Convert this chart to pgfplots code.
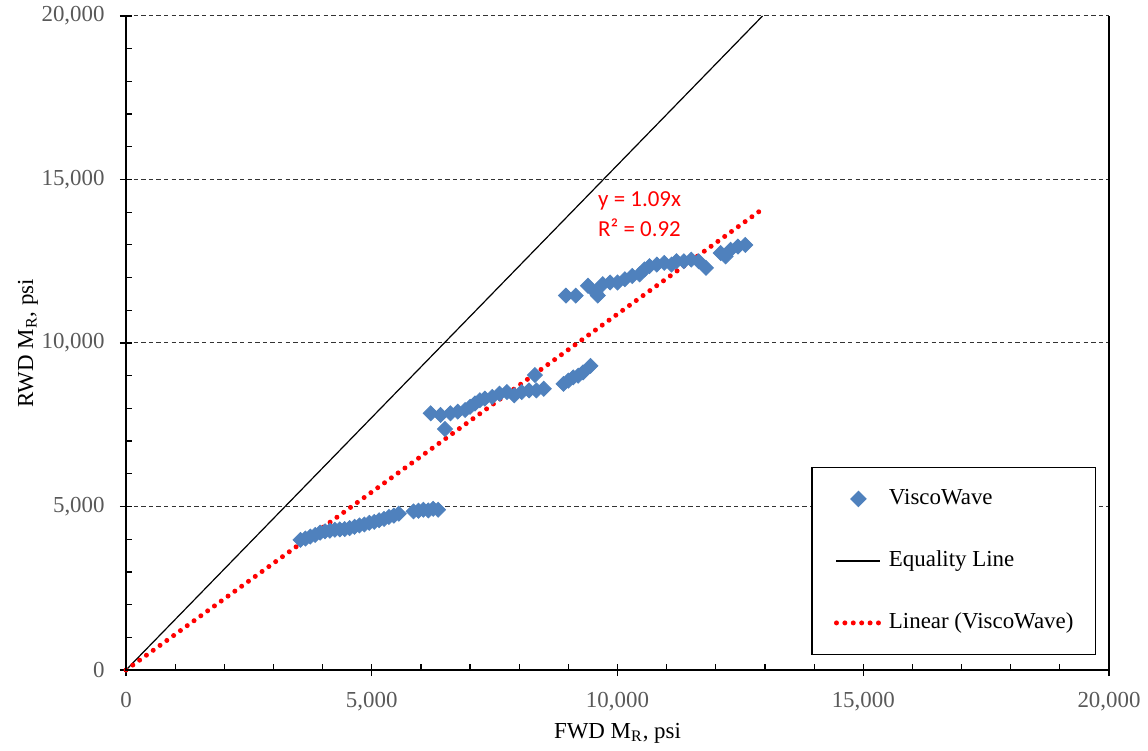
\documentclass[border=0pt]{standalone}
\usepackage{fontspec}
\setmainfont{Liberation Serif}
\newfontfamily\calibri{Carlito}
\usepackage{pgfplots}
\usepackage{pgfplotstable}
\pgfplotsset{compat=1.18}
\definecolor{vwblue}{RGB}{79,129,189}
\definecolor{ticklab}{RGB}{89,89,89}

\pgfplotstableread{
x y
3550 3980
3650 4020
3750 4080
3850 4130
3950 4200
4050 4240
4150 4260
4250 4290
4350 4300
4450 4310
4550 4340
4650 4380
4750 4420
4850 4450
4950 4500
5050 4530
5150 4580
5250 4620
5350 4680
5450 4720
5550 4780
5850 4850
5950 4870
6050 4900
6150 4880
6250 4930
6350 4900
6200 7850
6400 7800
6490 7370
6600 7850
6750 7900
6900 7950
7000 8050
7100 8150
7200 8250
7300 8300
7450 8350
7600 8450
7750 8500
7900 8400
8050 8500
8200 8550
8320 9020
8350 8550
8500 8600
8900 8750
9000 8850
9100 8950
9200 9000
9300 9100
9450 9300
8950 11450
9150 11450
9400 11750
9550 11550
9600 11450
9700 11800
9850 11850
10000 11850
10150 11950
10300 12050
10450 12100
10550 12250
10650 12350
10800 12400
10950 12450
11100 12400
11200 12500
11350 12500
11500 12550
11650 12500
11800 12300
12100 12750
12200 12650
12300 12850
12450 12950
12600 13000
}\viscodata

\begin{document}
\begin{tikzpicture}
\begin{axis}[
  scale only axis, width=491.5bp, height=327bp,
  xmin=0, xmax=20000, ymin=0, ymax=20000,
  xtick={0,5000,...,20000}, ytick={0,5000,...,20000},
  minor tick num=4,
  xtick pos=left, ytick pos=left,
  tick align=inside,
  major tick length=6bp, minor tick length=3bp,
  major x tick style={yshift=-3bp},
  major y tick style={xshift=-3bp},
  tick style={black, line width=0.6bp},
  axis line style={draw=none},
  ymajorgrids,
  major grid style={black!80, line width=0.5bp, dash pattern=on 2.2bp off 1.6bp},
  /pgf/number format/.cd, 1000 sep={,}, assume math mode=true,
  /pgfplots/.cd,
  xticklabel style={font=\fontsize{11.5}{13}\selectfont, text=ticklab, anchor=north, inner sep=0pt, yshift=-11bp},
  yticklabel style={font=\fontsize{11.5}{13}\selectfont, text=ticklab, anchor=east, inner sep=0pt, xshift=-10.5bp},
  scaled ticks=false,
  xlabel={FWD M\textsubscript{R}, psi},
  ylabel={RWD M\textsubscript{R}, psi},
  label style={font=\fontsize{11.5}{13}\selectfont},
  xlabel style={at={(axis description cs:0.5,-0.0963)}, anchor=center},
  ylabel style={at={(axis description cs:-0.0997,0.5)}, anchor=center},
  legend cell align=left,
  legend image code/.code={\draw[mark repeat=2,mark phase=2,#1] plot coordinates {(0bp,0bp) (11bp,0bp) (22bp,0bp)};},
  legend style={at={(0.9868,0.0229)}, anchor=south east, draw=black, line width=0.6bp,
    font=\fontsize{11.5}{13}\selectfont, row sep=20.5bp, column sep=3bp,
    inner xsep=11bp, inner ysep=10.5bp,
    nodes={inner sep=0pt, text height=8bp, text depth=2.5bp}},
  clip=false,
]
\addplot[only marks, mark=square*, mark size=2.65bp, mark options={rotate=45, fill=vwblue, draw=vwblue}] table[x=x,y=y] {\viscodata};
\addlegendentry{ViscoWave}
\addplot[black, line width=0.6bp] coordinates {(0,0) (12950,20000)};
\addlegendentry{Equality Line}
\addplot[red, line width=2.5bp, line cap=round, dash pattern=on 0pt off 4.2bp] coordinates {(0,0) (13000,14150)};
\addlegendentry{Linear (ViscoWave)}
\draw[black, line width=1bp] (rel axis cs:0,1) -- (rel axis cs:0,0) -- (rel axis cs:1,0) -- (rel axis cs:1,1);
\node[anchor=west, align=left, text=red, font=\calibri\fontsize{11.5}{15}\selectfont, inner sep=0pt] at (axis cs:9600,13945) {y = 1.09x\\R² = 0.92};
\end{axis}
\useasboundingbox (-63bp,-40.5bp) rectangle (511bp,335bp);
\end{tikzpicture}
\end{document}
